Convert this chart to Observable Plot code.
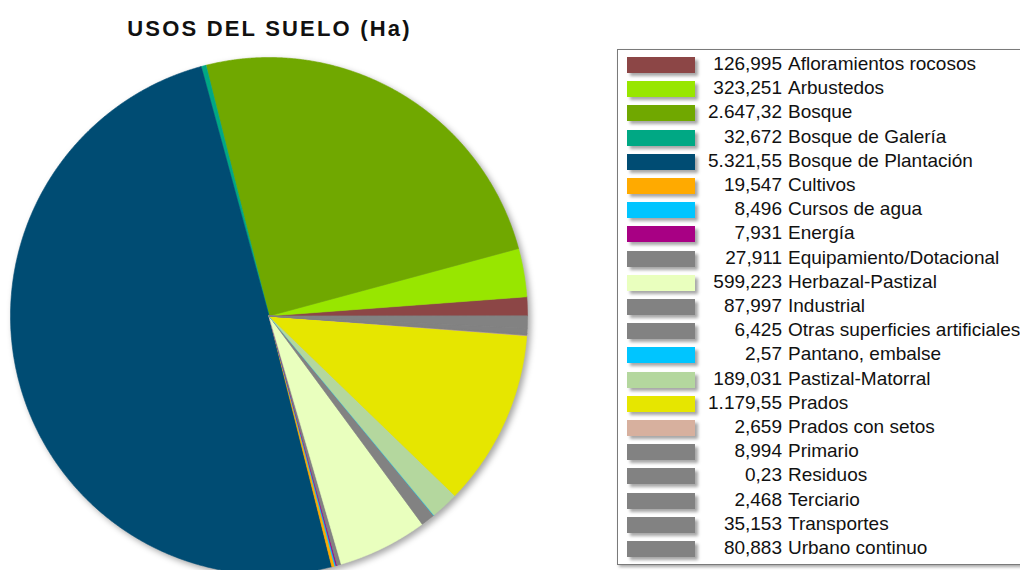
<!DOCTYPE html>
<html>
<head>
<meta charset="utf-8">
<script src="https://cdn.jsdelivr.net/npm/d3@7"></script>
<script src="https://cdn.jsdelivr.net/npm/@observablehq/plot@0.6"></script>
<style>
  html, body { margin: 0; padding: 0; background: #fff; width: 1020px; height: 570px; overflow: hidden; position: relative; }
  #title { position: absolute; left: 0; width: 539px; top: 16px; text-align: center; font: bold 22px "Liberation Sans", Arial, sans-serif; letter-spacing: 2.2px; color: #111; }
  #pie { position: absolute; left: 10px; top: 57px; filter: drop-shadow(3px 3px 3px rgba(0,0,0,0.35)); }
  #legend { position: absolute; left: 617px; top: 49px; width: 420px; height: 514px; border: 1px solid #7a7a7a; box-shadow: 2px 2px 3px rgba(0,0,0,0.35); background: #fff; font: 19px "Liberation Sans", Arial, sans-serif; color: #111; }
  .sw { position: absolute; left: 9px; width: 68px; height: 16px; box-shadow: 3px 3px 3px rgba(0,0,0,0.35); }
  .num { position: absolute; right: 256px; white-space: nowrap; text-align: right; }
  .lab { position: absolute; left: 170px; white-space: nowrap; }
</style>
</head>
<body>
<div id="title">USOS DEL SUELO (Ha)</div>
<div id="pie"></div>
<div id="legend"></div>
<script>
const categories = ["Afloramientos rocosos","Arbustedos","Bosque","Bosque de Galería","Bosque de Plantación","Cultivos","Cursos de agua","Energía","Equipamiento/Dotacional","Herbazal-Pastizal","Industrial","Otras superficies artificiales","Pantano, embalse","Pastizal-Matorral","Prados","Prados con setos","Primario","Residuos","Terciario","Transportes","Urbano continuo"];
const values = [126.995, 323.251, 2647.32, 32.672, 5321.55, 19.547, 8.496, 7.931, 27.911, 599.223, 87.997, 6.425, 2.57, 189.031, 1179.55, 2.659, 8.994, 0.23, 2.468, 35.153, 80.883];
const colors = ["#8c4646","#98e600","#70a800","#00a884","#004c73","#ffaa00","#00c5ff","#a80084","#828282","#e9ffbe","#828282","#828282","#00c5ff","#b4d79e","#e6e600","#d7b09e","#828282","#828282","#828282","#828282","#828282"];

const esLocale = d3.formatLocale({decimal: ",", thousands: ".", grouping: [3], currency: ["", ""]});
const fmt = esLocale.format(",.6~r");

// Build wedge geometry from values (counterclockwise from 3 o'clock, screen y down)
const total = d3.sum(values);
let cum = 0;
const features = categories.map((name, i) => {
  const a0 = cum / total * 2 * Math.PI;
  cum += values[i];
  const a1 = cum / total * 2 * Math.PI;
  const n = Math.max(2, Math.ceil((a1 - a0) / (Math.PI / 720)));
  const ring = [[0, 0]];
  for (let k = 0; k <= n; k++) {
    const t = a0 + (a1 - a0) * k / n;
    ring.push([Math.cos(t), -Math.sin(t)]);
  }
  ring.push([0, 0]);
  return {type: "Feature", properties: {name}, geometry: {type: "Polygon", coordinates: [ring]}};
});

const pie = Plot.plot({
  width: 517, height: 517, margin: 0,
  projection: {type: "identity", domain: {type: "Polygon", coordinates: [[[-1,-1],[1,-1],[1,1],[-1,1],[-1,-1]]]}},
  color: {type: "ordinal", domain: categories, range: colors},
  marks: [
    Plot.geo(features, {fill: d => d.properties.name, stroke: d => d.properties.name, strokeWidth: 0.6})
  ]
});
pie.style.overflow = "visible";
document.getElementById("pie").appendChild(pie);

// Legend
const legend = document.getElementById("legend");
categories.forEach((name, i) => {
  const top = 7 + i * 24.2;
  const sw = document.createElement("div");
  sw.className = "sw";
  sw.style.top = top + "px";
  sw.style.background = colors[i];
  legend.appendChild(sw);
  const num = document.createElement("div");
  num.className = "num";
  num.style.top = (top - 4) + "px";
  num.textContent = fmt(values[i]);
  legend.appendChild(num);
  const lab = document.createElement("div");
  lab.className = "lab";
  lab.style.top = (top - 4) + "px";
  lab.textContent = name;
  legend.appendChild(lab);
});
</script>
</body>
</html>
